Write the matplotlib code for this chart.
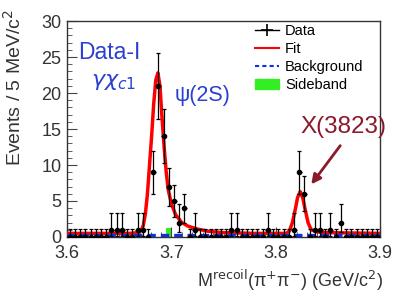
import numpy as np
import matplotlib
matplotlib.use("Agg")
import matplotlib.pyplot as plt
from matplotlib.patches import Patch
from matplotlib.lines import Line2D
from matplotlib.ticker import MultipleLocator

plt.rcParams['font.family'] = ['Liberation Sans', 'DejaVu Sans']

# data: events per 5 MeV bin, 3.600 - 3.900 GeV
bin_lo = 3.600
bin_w = 0.005
counts = [0, 0, 0, 0, 0, 0, 0, 0, 1, 1,
          1, 0, 0, 1, 1, 0, 9, 21, 14, 7,
          5, 2, 4, 0, 1, 0, 0, 0, 0, 0,
          0, 1, 1, 0, 0, 0, 0, 0, 1, 0,
          0, 0, 0, 1, 9, 6, 0, 1, 1, 0,
          1, 0, 2, 0, 0, 0, 0, 0, 0, 0]
# poisson errors for small counts
err_hi_small = {0: 1.15, 1: 2.30, 2: 2.64}
err_lo_small = {0: 0.0, 1: 0.83, 2: 1.29}

# fit curve
fit_x = [3.600, 3.660, 3.668, 3.671, 3.673, 3.675, 3.677, 3.679, 3.681, 3.683,
         3.685, 3.687, 3.689, 3.691, 3.693, 3.695, 3.697, 3.700, 3.704, 3.710,
         3.716, 3.725, 3.735, 3.750, 3.780, 3.810, 3.813, 3.816, 3.819, 3.821,
         3.8235, 3.826, 3.828, 3.831, 3.834, 3.840, 3.850, 3.900]
fit_y = [0.5, 0.5, 0.6, 0.9, 1.6, 3.2, 6.0, 10.0, 14.0, 18.5,
         21.8, 22.8, 21.0, 16.5, 12.5, 9.0, 6.5, 4.6, 3.1, 2.0,
         1.5, 1.1, 0.8, 0.6, 0.5, 0.5, 0.8, 2.0, 4.0, 5.5,
         6.3, 5.4, 4.0, 2.0, 1.0, 0.7, 0.6, 0.5]
bkg_x = [3.600, 3.900]
bkg_y = [0.25, 0.25]

# sideband histogram
sb_centers = [3.6975, 3.7825]
sb_vals = [1.3, 0.7]

centers = bin_lo + bin_w * (np.arange(len(counts)) + 0.5)
counts = np.array(counts, dtype=float)
err_hi = np.array([err_hi_small.get(int(n), np.sqrt(n)) for n in counts])
err_lo = np.array([err_lo_small.get(int(n), np.sqrt(n)) for n in counts])

fig = plt.figure(figsize=(3.95, 3.05), dpi=100)
ax = fig.add_axes([0.170, 0.223, 0.792, 0.708])

ax.bar(sb_centers, sb_vals, width=bin_w, color='#33ee22', zorder=1)
ax.plot(fit_x, fit_y, color='#ff0000', lw=2.5, zorder=3)
ax.plot(bkg_x, bkg_y, color='#1030e0', lw=2.4, ls=(0, (2.5, 1.5)), zorder=4)

ax.errorbar(centers, counts, xerr=bin_w / 2, fmt='none', ecolor='black',
            elinewidth=0.9, zorder=5)
ax.errorbar(centers, counts, yerr=[err_lo, err_hi], fmt='o', color='black',
            ms=3, elinewidth=0.9, capsize=1.6, capthick=0.9, zorder=5)

ax.set_xlim(3.6, 3.9)
ax.set_ylim(0, 30)
ax.xaxis.set_major_locator(MultipleLocator(0.1))
ax.xaxis.set_minor_locator(MultipleLocator(0.01))
ax.yaxis.set_major_locator(MultipleLocator(5))
ax.yaxis.set_minor_locator(MultipleLocator(1))
ax.tick_params(which='both', direction='in', labelsize=13, color='#444444',
               labelcolor='#333333')
ax.tick_params(which='major', length=7)
ax.tick_params(which='minor', length=3.5)
ax.tick_params(axis='x', pad=6)
ax.tick_params(axis='y', pad=4)
for s in ax.spines.values():
    s.set_color('#333333')
    s.set_linewidth(1.0)

ax.set_ylabel('Events / 5 MeV/c$^2$', fontsize=14, color='#333333')
ax.yaxis.set_label_coords(-0.135, 0.69)
ax.set_xlabel(r'M$^{\mathrm{recoil}}$(π$^{+}$π$^{-}$) (GeV/c$^2$)', fontsize=13,
              x=1.01, ha='right', labelpad=4, color='#333333')

ax.text(0.034, 0.855, 'Data-I', transform=ax.transAxes, color='#2b3fd0',
        fontsize=16.5, va='center')
ax.text(0.075, 0.72, r'$\gamma\chi_{c1}$', transform=ax.transAxes, color='#2b3fd0',
        fontsize=16, va='center')
ax.text(0.345, 0.655, 'ψ(2S)', transform=ax.transAxes, color='#2b3fd0',
        fontsize=15.5, va='center')
ax.text(0.745, 0.51, 'X(3823)', transform=ax.transAxes, color='#8b1a2a',
        fontsize=17.5, va='center')
ax.annotate('', xy=(3.8325, 7.0), xytext=(3.8635, 13.0),
            arrowprops=dict(arrowstyle='-|>', color='#8b1a2a', lw=2.0,
                            mutation_scale=14))

handles = [Line2D([0], [0], color='black', marker='+', ms=8, lw=1.0, mew=1.2),
           Line2D([0], [0], color='#ff0000', lw=1.5),
           Line2D([0], [0], color='#1030e0', lw=1.5, ls=(0, (2, 1.5))),
           Patch(color='#33ee22')]
ax.legend(handles, ['Data', 'Fit', 'Background', 'Sideband'], loc='upper right',
          bbox_to_anchor=(0.985, 1.04), frameon=False, fontsize=10.5,
          handlelength=1.7, handletextpad=0.4, labelspacing=0.28, borderpad=0.3)

fig.savefig('out.png', dpi=100)
